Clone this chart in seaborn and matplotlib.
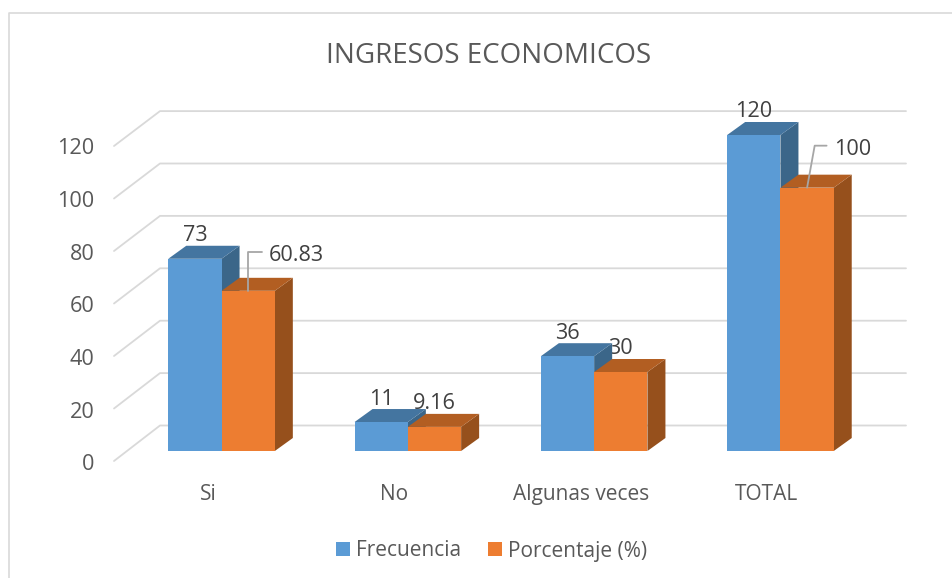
import matplotlib
matplotlib.use("Agg")
import matplotlib.pyplot as plt
import pandas as pd
import seaborn as sns
from matplotlib.lines import Line2D
from matplotlib.patches import Polygon
from matplotlib.transforms import Affine2D

categories = ["Si", "No", "Algunas veces", "TOTAL"]
frecuencia = [73, 11, 36, 120]
porcentaje = [60.83, 9.16, 30, 100]
value_labels = [["73", "11", "36", "120"], ["60.83", "9.16", "30", "100"]]
title = "INGRESOS ECONOMICOS"
series_names = ["Frecuencia", "Porcentaje (%)"]
yticks = [0, 20, 40, 60, 80, 100, 120]

W, H = 952, 578
FONT = ["Open Sans", "DejaVu Sans"]
sns.set_theme(style="white")
plt.rcParams["font.family"] = FONT

fig = plt.figure(figsize=(W / 100, H / 100), dpi=100)
ax = fig.add_axes([128.4 / W, (H - 451) / H, 745.2 / W, 316 / H])
ax.patch.set_alpha(0)

df = pd.DataFrame({
    "cat": categories * 2,
    "serie": [series_names[0]] * 4 + [series_names[1]] * 4,
    "val": frecuencia + porcentaje,
})
FRONT = ["#5B9BD5", "#ED7D31"]
TOPC = ["#4475A0", "#B25E22"]
SIDEC = ["#3B6689", "#96501C"]
sns.barplot(data=df, x="cat", y="val", hue="serie", palette=FRONT, width=0.572,
            gap=0, saturation=1, errorbar=None, ax=ax, zorder=6, linewidth=0)
ax.set_xlim(-0.5, 3.5)
ax.set_ylim(0, 120)
ax.set_xlabel("")
ax.set_ylabel("")
sns.despine(ax=ax, left=True, bottom=True)

# image-pixel coordinates -> display
PX = Affine2D().scale(1, -1).translate(0, H)

# chart frame: left and top edges only are inside the crop
BORDER = "#D9D9D9"
fig.add_artist(Line2D([8.5, 8.5, W + 2], [H + 2, 13, 13], color=BORDER, lw=1.2,
                      transform=PX, zorder=-2))

# back wall grid with the slanted floor lines
FX, BX, BXR = 114, 160, 906
for v in yticks:
    fy = 461 - 2.625 * v
    by = 425.5 - 2.62 * v
    fig.add_artist(Line2D([FX, BX, BXR], [fy, by, by], color=BORDER, lw=1.3, transform=PX,
                          zorder=-1))

# ticks
ax.set_yticks(yticks)
ax.tick_params(axis="both", length=0)
ax.tick_params(axis="y", labelsize=15.6, labelcolor="#595959", pad=24.3)
ax.tick_params(axis="x", labelsize=15, labelcolor="#595959", pad=23.5)
for lab in ax.get_yticklabels():
    lab.set_transform(lab.get_transform() + Affine2D().translate(0, -11.5))
for lab in ax.get_xticklabels():
    lab.set_transform(lab.get_transform() + Affine2D().translate(-13.5, 0))

# depth faces derived from each seaborn bar
DX, DY = 18, 13
to_px = ax.transData
for s, cont in enumerate(ax.containers):
    for bar, txt in zip(cont, value_labels[s]):
        x0 = bar.get_x()
        x1 = x0 + bar.get_width()
        h = bar.get_height()
        (ax0, ay0), (ax1, ay1) = to_px.transform([(x0, 0), (x1, h)])
        z = 3 + s * 2
        ax.add_patch(Polygon([(ax1, ay0), (ax1, ay1), (ax1 + DX, ay1 + DY), (ax1 + DX, ay0 + DY)],
                             closed=True, fc=SIDEC[s], ec="none", transform=None, zorder=z,
                             clip_on=False))
        ax.add_patch(Polygon([(ax0, ay1), (ax1, ay1), (ax1 + DX, ay1 + DY), (ax0 + DX, ay1 + DY)],
                             closed=True, fc=TOPC[s], ec="none", transform=None, zorder=z,
                             clip_on=False))
        bar.set_zorder(z + 1)
        bar.set_clip_on(False)
        # value labels
        ox, oy = 0, 25.5
        if txt == "60.83":
            ox, oy = 48, 38
        if txt == "100":
            ox, oy = 46, 41
        ax.annotate(txt, xy=((x0 + x1) / 2, h), xytext=(ox * 0.72, oy * 0.72),
                    textcoords="offset points", ha="center", va="center_baseline",
                    fontsize=15.6, color="#404040", zorder=2.5, annotation_clip=False)
        if txt in ("60.83", "100"):
            kx = 0 if txt == "60.83" else 7.6
            ky = 39 if txt == "60.83" else 42
            ex = 13.5 if txt == "60.83" else 19.5
            ln = Line2D([(ax0 + ax1) / 2, (ax0 + ax1) / 2 + kx, (ax0 + ax1) / 2 + ex],
                        [ay1, ay1 + ky, ay1 + ky], color="#A6A6A6", lw=1.3, transform=None,
                        zorder=9, clip_on=False)
            fig.add_artist(ln)

# title
fig.text(489 / W, 1 - 56 / H, title, ha="center", va="center", fontsize=20, color="#595959")

# legend
sns.move_legend(ax, "center", bbox_to_anchor=(491.5 / W, 1 - 551 / H),
                bbox_transform=fig.transFigure, ncol=2, frameon=False, title=None,
                fontsize=15, handlelength=0.67, handleheight=0.67, handletextpad=0.3,
                columnspacing=1.3, labelcolor="#595959")

fig.savefig("out.png", dpi=100)
